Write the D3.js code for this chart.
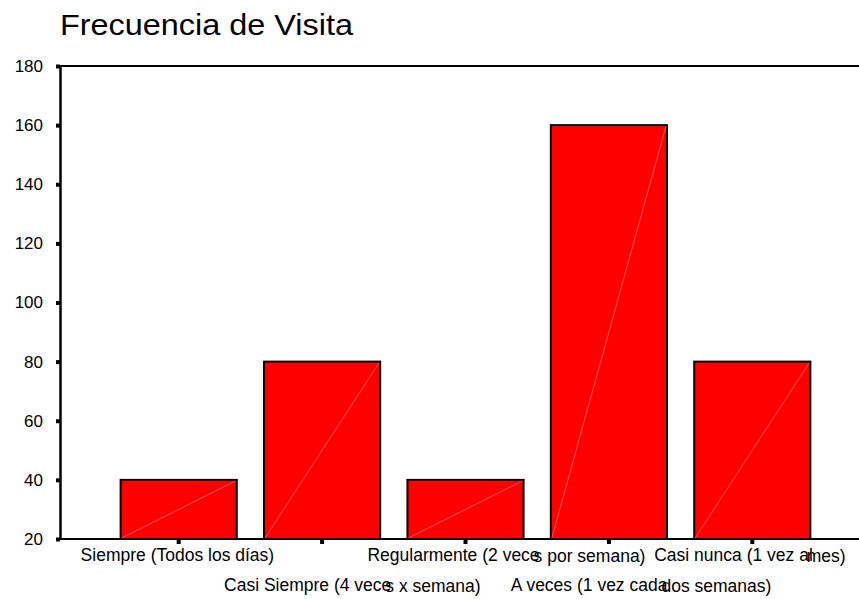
<!DOCTYPE html>
<html>
<head>
<meta charset="utf-8">
<script src="https://cdn.jsdelivr.net/npm/d3@7"></script>
<style>
  body { margin: 0; background: #fff; }
  svg { display: block; font-family: "Liberation Sans", Arial, sans-serif; }
</style>
</head>
<body>
<div id="chart"></div>
<script>
// data
const categories = ["Siempre", "Casi Siempre", "Regularmente", "A veces", "Casi nunca"]
const frecuencia = [40, 80, 40, 160, 80]
// the labels come out in two pieces that overlap a bit, like the original
const labelsA = ["Siempre (Todos los días)", "Casi Siempre (4 vece", "Regularmente (2 vece", "A veces (1 vez cada", "Casi nunca (1 vez al"]
const labelsB = ["", "s x semana)", "s por semana)", "dos semanas)", "mes)"]
const yTicks = [20, 40, 60, 80, 100, 120, 140, 160, 180]

function generate_bars(titley, width, height){

    const left = 60, top = 66, bottom = 539

    const svg = d3.create("svg")
        .attr("width", width)
        .attr("height", height)

    svg.append("text")
        .attr("x", 60)
        .attr("y", 35)
        .attr("font-size", "30px")
        .attr("textLength", 293)
        .attr("lengthAdjust", "spacingAndGlyphs")
        .text(titley)

    const y = d3.scaleLinear()
        .domain([20, 180])
        .range([bottom, top])

    const x = d3.scaleBand()
        .domain(categories)
        .range([107, 824])
        .paddingInner(0.19)
        .paddingOuter(0.095)

    // bars
    const g = svg.append("g")
    g.selectAll("rect")
        .data(frecuencia)
        .enter()
        .append("rect")
        .attr("x", (d, i) => x(categories[i]))
        .attr("y", d => y(d))
        .attr("width", x.bandwidth())
        .attr("height", d => y(20) - y(d))
        .attr("fill", "#ff0000")
        .attr("stroke", "#000")
        .attr("stroke-width", 2)

    // faint diagonal inside each bar
    g.selectAll("line.diag")
        .data(frecuencia)
        .enter()
        .append("line")
        .attr("class", "diag")
        .attr("x1", (d, i) => x(categories[i]) + 1)
        .attr("y1", y(20) - 1)
        .attr("x2", (d, i) => x(categories[i]) + x.bandwidth() - 1)
        .attr("y2", d => y(d) + 1)
        .attr("stroke", "#ff6a6a")
        .attr("stroke-width", 0.8)

    // frame lines
    svg.append("line")
        .attr("x1", left).attr("x2", width)
        .attr("y1", y(180)).attr("y2", y(180))
        .attr("stroke", "#000").attr("stroke-width", 2)
    svg.append("line")
        .attr("x1", left).attr("x2", width)
        .attr("y1", y(20)).attr("y2", y(20))
        .attr("stroke", "#000").attr("stroke-width", 2)

    // y axis
    const yAxis = svg.append("g")
        .attr("transform", `translate(${left},0)`)
        .call(d3.axisLeft(y).tickValues(yTicks).tickSize(4).tickPadding(13).tickSizeOuter(0))
    yAxis.select(".domain").attr("stroke", "#000").attr("stroke-width", 2.5)
    yAxis.selectAll(".tick line").attr("stroke", "#000").attr("stroke-width", 4)
    yAxis.selectAll(".tick text")
        .attr("font-size", "17px")
        .attr("font-family", "Liberation Sans, Arial, sans-serif")
        .attr("fill", "#000")

    // x ticks (little squares under the axis)
    const xAxis = svg.append("g")
        .attr("transform", `translate(0,${y(20) + 1})`)
        .call(d3.axisBottom(x).tickSize(4).tickFormat(""))
    xAxis.select(".domain").remove()
    xAxis.selectAll(".tick line").attr("stroke", "#000").attr("stroke-width", 4)

    // category labels, alternating rows
    const labels = svg.append("g")
        .selectAll("text")
        .data(categories)
        .enter()
        .append("text")
        .attr("x", d => x(d) - 40)
        .attr("y", (d, i) => i % 2 == 0 ? 561 : 591)
        .attr("font-size", "17.5px")
        .attr("fill", "#000")
    labels.append("tspan").text((d, i) => labelsA[i])
    labels.append("tspan")
        .attr("dx", -6)
        .attr("dy", 1)
        .text((d, i) => labelsB[i])

    return svg.node()
}

document.getElementById("chart").appendChild(generate_bars("Frecuencia de Visita", 859, 599))
</script>
</body>
</html>
